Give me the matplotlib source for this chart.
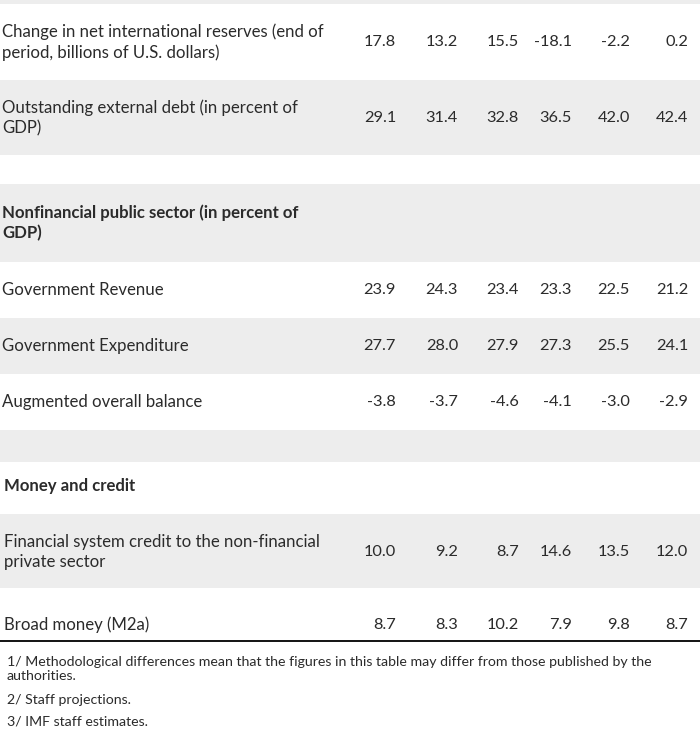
import matplotlib
matplotlib.use("Agg")
import matplotlib.pyplot as plt
from matplotlib.patches import Rectangle

plt.rcParams['font.family'] = ['Lato', 'DejaVu Sans']

# rows of the table (None = header / blank)
labels = [
    "",
    "Change in net international reserves (end of\nperiod, billions of U.S. dollars)",
    "Outstanding external debt (in percent of\nGDP)",
    "",
    "Nonfinancial public sector (in percent of\nGDP)",
    "Government Revenue",
    "Government Expenditure",
    "Augmented overall balance",
    "",
    "Money and credit",
    "Financial system credit to the non-financial\nprivate sector",
    "Broad money (M2a)",
]
values = [
    None,
    [17.8, 13.2, 15.5, -18.1, -2.2, 0.2],
    [29.1, 31.4, 32.8, 36.5, 42.0, 42.4],
    None,
    None,
    [23.9, 24.3, 23.4, 23.3, 22.5, 21.2],
    [27.7, 28.0, 27.9, 27.3, 25.5, 24.1],
    [-3.8, -3.7, -4.6, -4.1, -3.0, -2.9],
    None,
    None,
    [10.0, 9.2, 8.7, 14.6, 13.5, 12.0],
    [8.7, 8.3, 10.2, 7.9, 9.8, 8.7],
]
bold_rows = [4, 9]
footnotes = [
    "1/ Methodological differences mean that the figures in this table may differ from those published by the\nauthorities.",
    "2/ Staff projections.",
    "3/ IMF staff estimates.",
]

# layout (pixels)
row_edges = [0, 4, 80, 155, 184, 262, 318, 374, 430, 462, 514, 588, 640]
text_y = [0, 42, 118, 0, 223, 290, 346, 402, 0, 486, 552, 625]
shaded = [0, 2, 4, 6, 8, 10]
col_right = [396, 458, 519, 572, 630, 688]
label_x = [2, 2, 2, 2, 2, 2, 2, 2, 2, 4, 4, 4]
text_color = "#2b2b2b"

fig = plt.figure(figsize=(7.0, 7.51), dpi=100)
ax = fig.add_axes([0, 0, 1, 1])
ax.set_xlim(0, 700)
ax.set_ylim(751, 0)
ax.axis("off")

for i, lab in enumerate(labels):
    top, bot = row_edges[i], row_edges[i + 1]
    if i in shaded:
        ax.add_patch(Rectangle((0, top), 700, bot - top, color="#ededed", lw=0))
    yc = text_y[i]
    if lab:
        ax.text(label_x[i], yc, lab, ha="left", va="center", fontsize=12.1,
                color=text_color, linespacing=1.3,
                fontweight="bold" if i in bold_rows else "normal")
    if values[i] is not None:
        for x, v in zip(col_right, values[i]):
            ax.text(x, yc, f"{v:.1f}", ha="right", va="center", fontsize=11.8,
                    color=text_color)

ax.plot([0, 700], [641, 641], color="black", lw=1.3)

fy = [669, 700, 722]
for y, t in zip(fy, footnotes):
    ax.text(7, y, t, ha="left", va="center", fontsize=10.2, color=text_color,
            linespacing=1.3)

fig.savefig("out.png", dpi=100)
